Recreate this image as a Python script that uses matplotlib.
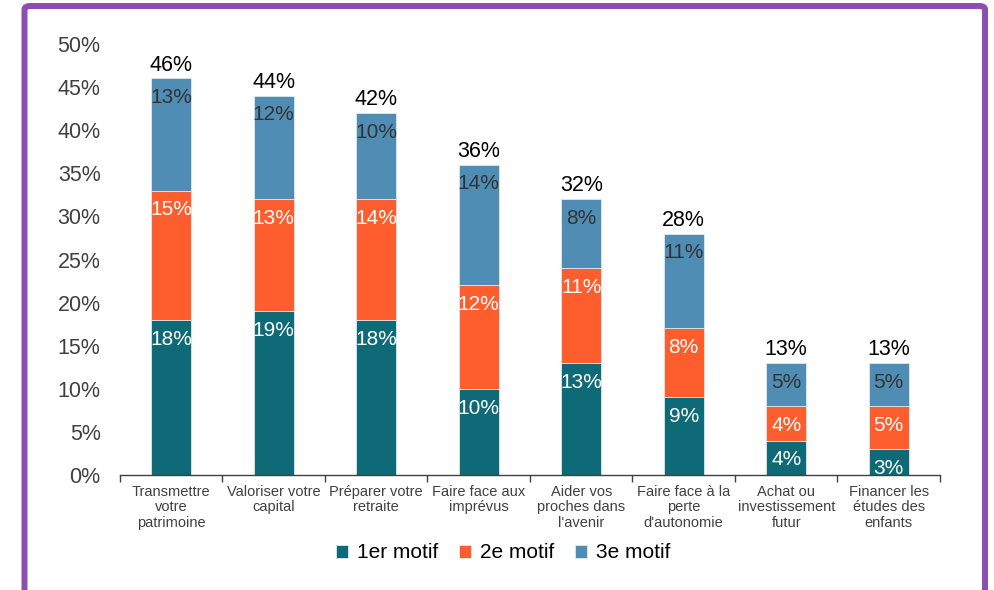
import matplotlib.pyplot as plt
import numpy as np
from matplotlib.patches import FancyBboxPatch

plt.rcParams['font.family'] = ['Liberation Sans', 'DejaVu Sans']

categories = ["Transmettre\nvotre\npatrimoine", "Valoriser votre\ncapital",
              "Préparer votre\nretraite", "Faire face aux\nimprévus",
              "Aider vos\nproches dans\nl'avenir", "Faire face à la\nperte\nd'autonomie",
              "Achat ou\ninvestissement\nfutur", "Financer les\nétudes des\nenfants"]
motif1 = [18, 19, 18, 10, 13, 9, 4, 3]
motif2 = [15, 13, 14, 12, 11, 8, 4, 5]
motif3 = [13, 12, 10, 14, 8, 11, 5, 5]
totals = [46, 44, 42, 36, 32, 28, 13, 13]
series_names = ["1er motif", "2e motif", "3e motif"]
colors = ["#0E6A77", "#FE5E2D", "#4F8DB4"]
label_colors = ["white", "white", "#333333"]

fig = plt.figure(figsize=(9.95, 5.9), dpi=100)
ax = fig.add_axes([0.1206, 0.1949, 0.8241, 0.7305])

x = np.arange(len(categories))
width = 0.39
bottom = np.zeros(len(categories))
handles = []
for vals, col, lc, name in zip([motif1, motif2, motif3], colors, label_colors, series_names):
    vals = np.array(vals)
    bars = ax.bar(x, vals, width, bottom=bottom, color=col, edgecolor="#dfe8ee",
                  linewidth=0.6, label=name)
    handles.append(bars)
    for xi, b, v in zip(x, bottom, vals):
        t = ax.annotate(f"{v}%", (xi, b + v), xytext=(0, -7), textcoords="offset points",
                        ha="center", va="top", fontsize=15, color=lc)
        t.set_clip_on(True)
    bottom = bottom + vals

for xi, t in zip(x, totals):
    ax.annotate(f"{t}%", (xi, t), xytext=(0, 2), textcoords="offset points",
                ha="center", va="bottom", fontsize=15.5, color="black")

ax.set_ylim(0, 50)
ax.set_xlim(-0.5, len(categories) - 0.5)
ax.set_yticks(np.arange(0, 51, 5))
ax.set_yticklabels([f"{v}%" for v in range(0, 51, 5)])
ax.tick_params(axis="y", length=0, pad=14, labelsize=15.5, labelcolor="#404040")

ax.set_xticks(x)
ax.set_xticklabels(categories, fontsize=10.5, color="#404040", linespacing=1.15)
ax.set_xticks(np.arange(-0.5, len(categories), 1), minor=True)
ax.tick_params(axis="x", which="major", length=0, pad=7)
ax.tick_params(axis="x", which="minor", length=5, color="#404040", width=1)

for s in ["top", "right", "left"]:
    ax.spines[s].set_visible(False)
ax.spines["bottom"].set_color("#404040")
ax.spines["bottom"].set_linewidth(1)

fig.legend(handles=handles, labels=series_names, loc="center",
           bbox_to_anchor=(503 / 995, 1 - 553 / 590), ncol=3, frameon=False,
           fontsize=15, handlelength=0.6, handleheight=0.6, handletextpad=0.4,
           columnspacing=1.0)

# purple frame, open at the bottom
frame = FancyBboxPatch((24.5 / 995, -0.2), (985 - 24.5) / 995, 1.2 - 6 / 590,
                       boxstyle="round,pad=0,rounding_size=0.006",
                       transform=fig.transFigure, fill=False,
                       edgecolor="#8E4DB4", linewidth=4.3, clip_on=False)
fig.patches.append(frame)

fig.savefig("out.png", dpi=100)
